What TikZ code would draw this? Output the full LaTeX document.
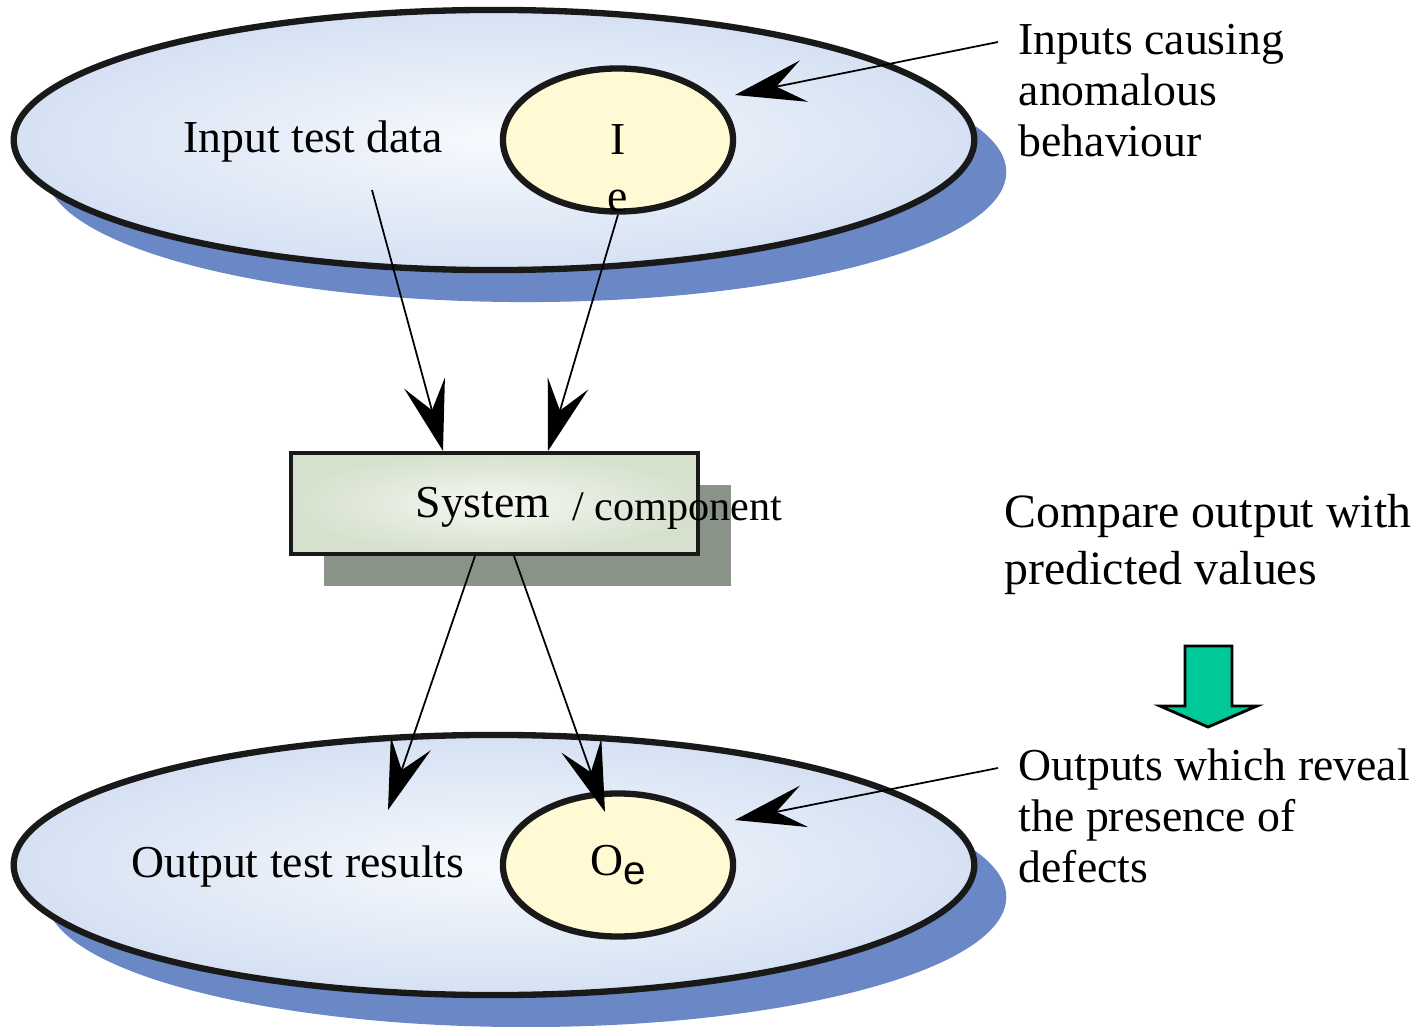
\documentclass[tikz,border=0pt]{standalone}
\usepackage{fontspec}
\setmainfont{Liberation Serif}
\setsansfont{Liberation Sans}
\usetikzlibrary{shapes.geometric,arrows.meta}

\definecolor{plate}{HTML}{D5E1F3}
\definecolor{platemid}{HTML}{F7F9FD}
\definecolor{plateshadow}{HTML}{6A87C6}
\definecolor{spot}{HTML}{FFFAD4}
\definecolor{boxedge}{HTML}{D6E1CD}
\definecolor{boxmid}{HTML}{F5F8F2}
\definecolor{boxshadow}{HTML}{899388}
\definecolor{turq}{HTML}{00C896}

\tikzset{
  plate/.style={ellipse, draw=black!90, line width=1.8pt, inner sep=0pt,
    minimum width=9.6cm, minimum height=2.6cm, inner color=platemid, outer color=plate},
  plateshade/.style={ellipse, fill=plateshadow, inner sep=0pt,
    minimum width=9.6cm, minimum height=2.6cm},
  spot/.style={ellipse, draw=black!90, line width=1.8pt, fill=spot, inner sep=0pt,
    minimum width=2.3cm, minimum height=1.43cm, font=\fontsize{13}{15}\selectfont},
  feed/.style={-{Stealth[length=20pt,width=12pt,inset=8pt]}, line width=0.5pt},
  pointer/.style={-{Stealth[length=20pt,width=12pt,inset=8pt]}, line width=0.5pt},
  label/.style={font=\fontsize{13}{15}\selectfont, inner sep=0pt},
  note/.style={font=\fontsize{13}{14.5}\selectfont, align=left, inner sep=0pt},
}

\begin{document}
\begin{tikzpicture}[x=0.01cm, y=-0.01cm]
    \useasboundingbox (0,0) rectangle (1420,1027);

    % input side
    \node[plateshade] (inshade) at (526,172) {};
    \node[plate] (inplate) at (494,140) {};
    \node[spot] (ie) at (618,140) {I};
    \node[label] (iesub) at (618,201) {e};
    \node[label] (indata) at (313,142) {Input test data};

    % output side
    \node[plateshade] (outshade) at (526,897) {};
    \node[plate] (outplate) at (494,865) {};
    \node[spot] (oe) at (618,865) {O\raisebox{-0.45ex}{\sffamily\fontsize{11.5}{13}\selectfont e}};
    \node[label] (outdata) at (298,867) {Output test results};

    % the system box
    \node[fill=boxshadow, inner sep=0pt, minimum width=4.07cm, minimum height=1.01cm] (sysshade) at (527.5,535.5) {};
    \node[draw=black!90, line width=1.3pt, inner sep=0pt, minimum width=4.07cm, minimum height=1.01cm,
          inner color=boxmid, outer color=boxedge] (sys) at (494.5,503.5) {};
    \node[label] (systext) at (483,507) {System};
    \node[label, font=\fontsize{12}{14}\selectfont, anchor=west] (comptext) at (572,511) {/ component};

    % notes on the right
    \node[note, anchor=north west] (causenote) at (1018,24) {Inputs causing\\anomalous\\behaviour};
    \node[note, font=\fontsize{13.6}{16.2}\selectfont, anchor=north west] (comparenote) at (1004,494)
        {Compare output with\\predicted values};
    \node[note, anchor=north west] (revealnote) at (1018,748) {Outputs which reveal\\the presence of\\defects};

    % green arrow
    \draw[fill=turq, line width=0.8pt] (1185,646) -- (1232,646) -- (1232,706) -- (1257,706)
        -- (1208,727) -- (1160,706) -- (1185,706) -- cycle;

    % draw arrow
    \coordinate (inA) at (372,190);
    \coordinate (sysA) at (443,451);
    \coordinate (sysB) at (548,451);
    \coordinate (sysC) at (475,556);
    \coordinate (sysD) at (514,556);
    \coordinate (outA) at (388,810);
    \coordinate (oeB) at (605,812);
    \coordinate (causeA) at (998,42);
    \coordinate (ieE) at (735,95);
    \coordinate (revealA) at (998,768);
    \coordinate (oeE) at (735,820);
    \draw[feed] (inA) -- (sysA);
    \draw[feed] (ie.south) -- (sysB);
    \draw[feed] (sysC) -- (outA);
    \draw[feed] (sysD) -- (oeB);
    \draw[pointer] (causeA) -- (ieE);
    \draw[pointer] (revealA) -- (oeE);
\end{tikzpicture}
\end{document}
